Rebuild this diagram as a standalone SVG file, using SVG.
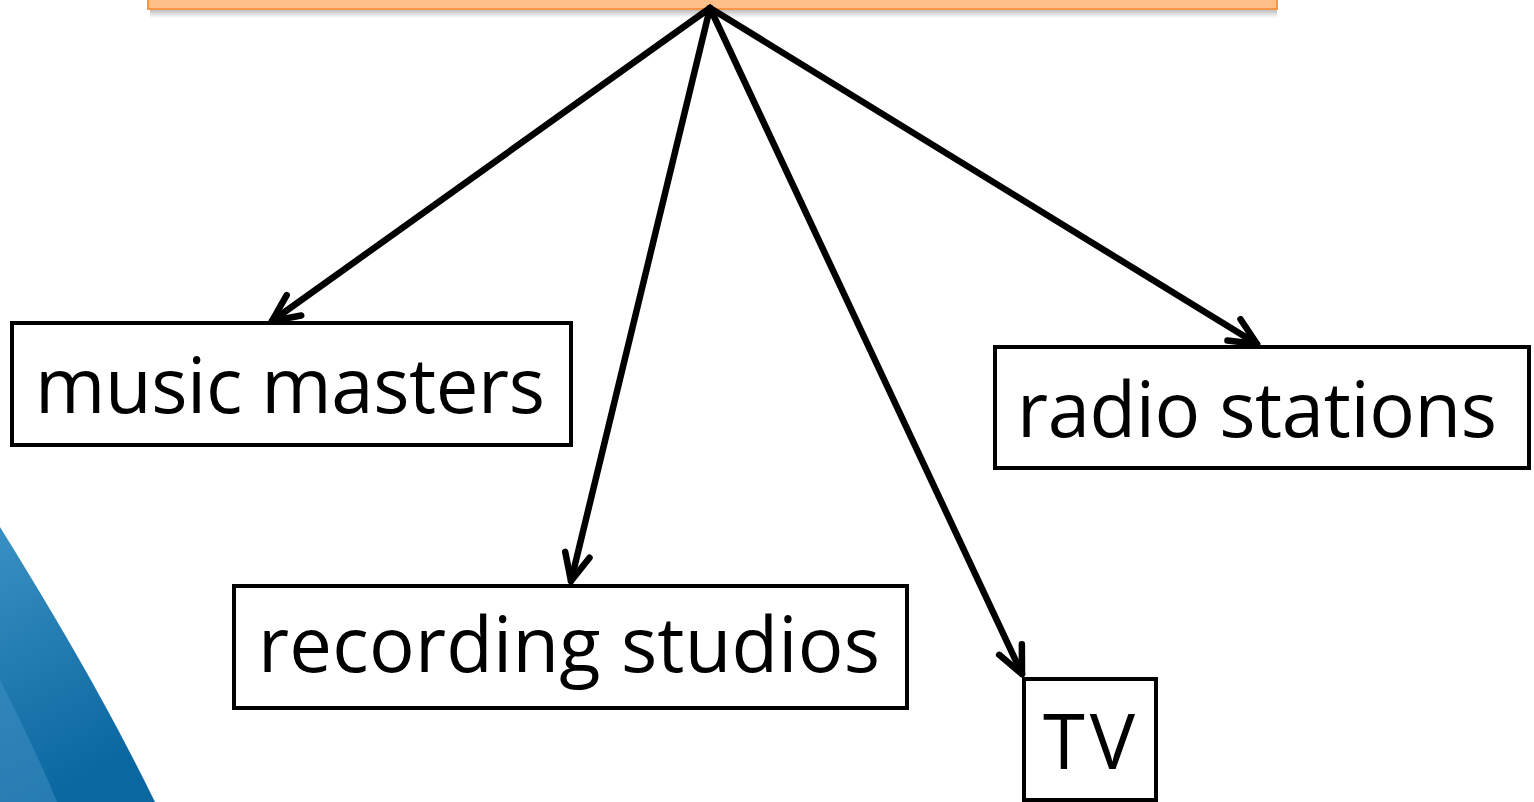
<svg xmlns="http://www.w3.org/2000/svg" width="1534" height="802" viewBox="0 0 1534 802">
<defs>
<style>
.box{fill:#fff;stroke:#000;stroke-width:4}
.lbl{font-family:"Open Sans","Liberation Sans",sans-serif;font-size:76px;fill:#000}
.edge{stroke:#000;stroke-width:6.5;fill:none;stroke-linecap:round}
</style>
<marker id="arr" markerUnits="userSpaceOnUse" viewBox="-34 -18 40 36" refX="0" refY="0" markerWidth="40" markerHeight="36" orient="auto">
<path d="M-27,-12.5 L0,0 L-27,12.5" fill="none" stroke="#000" stroke-width="6.5" stroke-linecap="round" stroke-linejoin="round"/>
</marker>
<linearGradient id="shadow" x1="0" y1="0" x2="0" y2="1">
<stop offset="0" stop-color="#888" stop-opacity="0.6"/>
<stop offset="1" stop-color="#888" stop-opacity="0"/>
</linearGradient>
<linearGradient id="blue" x1="0" y1="0" x2="0.3" y2="1">
<stop offset="0" stop-color="#3a90c2"/>
<stop offset="1" stop-color="#0a67a0"/>
</linearGradient>
</defs>
<g id="decor">
<path d="M0,527 C45,600 100,690 155,802 L0,802 Z" fill="url(#blue)"/>
<path d="M0,680 C20,720 40,760 57,802 L0,802 Z" fill="#3b8cbf" opacity="0.6"/>
</g>
<g id="top">
<rect x="150" y="9" width="1127" height="9" fill="url(#shadow)"/>
<rect x="148" y="-10" width="1129" height="19" fill="#ffbf88" stroke="#f79646" stroke-width="2"/>
</g>
<g id="connectors">
<line class="edge" x1="710" y1="8" x2="272" y2="321" marker-end="url(#arr)"/>
<line class="edge" x1="710" y1="8" x2="571" y2="581" marker-end="url(#arr)"/>
<line class="edge" x1="710" y1="8" x2="1022" y2="674" marker-end="url(#arr)"/>
<line class="edge" x1="710" y1="8" x2="1257" y2="344" marker-end="url(#arr)"/>
</g>
<g id="music">
<rect class="box" x="12" y="323" width="559" height="122"/>
<text class="lbl" x="35" y="413" textLength="510">music masters</text>
</g>
<g id="radio">
<rect class="box" x="995" y="347" width="534" height="121"/>
<text class="lbl" x="1017" y="437" textLength="480">radio stations</text>
</g>
<g id="studios">
<rect class="box" x="234" y="586" width="673" height="122"/>
<text class="lbl" x="258" y="672" textLength="622">recording studios</text>
</g>
<g id="tv">
<rect class="box" x="1024" y="679" width="132" height="121"/>
<text class="lbl" x="1043" y="769" textLength="92">TV</text>
</g>
</svg>
